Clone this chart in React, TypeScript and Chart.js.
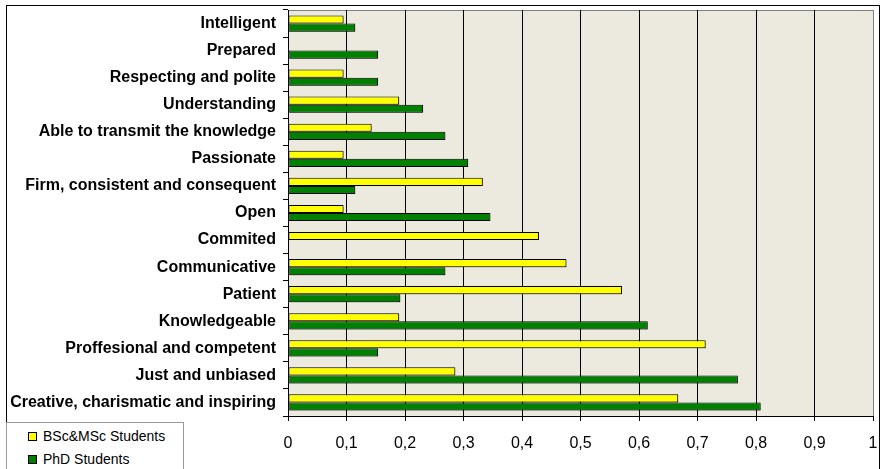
import React, { useEffect, useRef } from "react";
import { Chart, registerables } from "chart.js";

Chart.register(...registerables);

const categories = [
  "Intelligent",
  "Prepared",
  "Respecting and polite",
  "Understanding",
  "Able to transmit the knowledge",
  "Passionate",
  "Firm, consistent and consequent",
  "Open",
  "Commited",
  "Communicative",
  "Patient",
  "Knowledgeable",
  "Proffesional and competent",
  "Just and unbiased",
  "Creative, charismatic and inspiring",
];

const bscMscValues = [0.095, 0, 0.095, 0.19, 0.143, 0.095, 0.333, 0.095, 0.429, 0.476, 0.571, 0.19, 0.714, 0.286, 0.667];
const phdValues = [0.115, 0.154, 0.154, 0.231, 0.269, 0.308, 0.115, 0.346, 0, 0.269, 0.192, 0.615, 0.154, 0.769, 0.808];

const seriesNames = ["BSc&MSc Students", "PhD Students"];
const seriesColors = ["#FFFF00", "#008000"];

const xMin = 0;
const xMax = 1;
const xStep = 0.1;

const FONT = "'Liberation Sans', Arial, Helvetica, sans-serif";

const decorPlugin = {
  id: "decor",
  beforeDraw(chart: any) {
    const { ctx, chartArea } = chart;
    ctx.save();
    ctx.fillStyle = "#ffffff";
    ctx.fillRect(0, 0, chart.width, chart.height);
    ctx.fillStyle = "#ECE9DF";
    ctx.fillRect(chartArea.left, chartArea.top, chartArea.right - chartArea.left, chartArea.bottom - chartArea.top);
    ctx.strokeStyle = "#808080";
    ctx.lineWidth = 1;
    ctx.beginPath();
    ctx.moveTo(chartArea.left, chartArea.top + 0.5);
    ctx.lineTo(chartArea.right, chartArea.top + 0.5);
    ctx.stroke();
    ctx.restore();
  },
  beforeDatasetsDraw(chart: any) {
    const ctx = chart.ctx;
    ctx.save();
    ctx.shadowColor = "rgba(0,0,0,0.25)";
    ctx.shadowOffsetX = 1.5;
    ctx.shadowOffsetY = 1.5;
    ctx.shadowBlur = 0;
  },
  afterDatasetsDraw(chart: any) {
    chart.ctx.restore();
  },
};

export default function App() {
  const canvasRef = useRef<HTMLCanvasElement | null>(null);

  useEffect(() => {
    const canvas = canvasRef.current;
    if (!canvas) return;
    const chart = new Chart(canvas, {
      type: "bar",
      data: {
        labels: categories,
        datasets: [
          {
            label: seriesNames[0],
            data: bscMscValues,
            backgroundColor: seriesColors[0],
            borderColor: "#000000",
            borderWidth: 1,
            borderSkipped: false,
          },
          {
            label: seriesNames[1],
            data: phdValues,
            backgroundColor: seriesColors[1],
            borderColor: "#000000",
            borderWidth: 1,
            borderSkipped: false,
          },
        ],
      },
      options: {
        indexAxis: "y",
        responsive: false,
        animation: false,
        devicePixelRatio: 1,
        layout: { padding: { left: 0, right: 8, top: 10, bottom: 0 } },
        datasets: {
          bar: { barPercentage: 1, categoryPercentage: 0.6 },
        },
        plugins: {
          legend: { display: false },
          tooltip: { enabled: false },
        },
        scales: {
          x: {
            type: "linear",
            min: xMin,
            max: xMax,
            position: "bottom",
            afterFit(scale: any) {
              scale.height = 53;
              scale.paddingLeft = 0;
              scale.paddingRight = 0;
            },
            ticks: {
              stepSize: xStep,
              color: "#000",
              padding: 13,
              font: { family: FONT, size: 16 },
              callback: (v: any) => {
                const n = Math.round(Number(v) * 10) / 10;
                return String(n).replace(".", ",");
              },
            },
            grid: {
              color: (c: any) => (c.tick && Math.abs(c.tick.value - 1) < 1e-6 ? "#808080" : "#000000"),
              tickColor: "#000000",
              tickLength: 5,
              lineWidth: 1,
            },
            border: { color: "#000000", width: 1 },
          },
          y: {
            type: "category",
            afterFit(scale: any) {
              scale.width = 288;
              scale.paddingTop = 0;
              scale.paddingBottom = 0;
            },
            ticks: {
              color: "#000",
              padding: 7,
              autoSkip: false,
              font: { family: FONT, size: 16, weight: "bold" },
            },
            grid: {
              drawOnChartArea: false,
              drawTicks: true,
              tickLength: 5,
              color: "#000000",
              offset: true,
            },
            border: { color: "#000000", width: 1 },
          },
        },
      },
      plugins: [decorPlugin],
    } as any);
    return () => chart.destroy();
  }, []);

  const legendItem = (i: number, top: number) => (
    <div
      key={i}
      style={{
        position: "absolute",
        left: 21,
        top,
        height: 18,
        display: "flex",
        alignItems: "center",
        fontFamily: FONT,
        fontSize: 14,
        color: "#000",
        whiteSpace: "nowrap",
      }}
    >
      <span
        style={{
          display: "inline-block",
          width: 9,
          height: 9,
          boxSizing: "border-box",
          border: "1px solid #000",
          background: seriesColors[i],
          marginRight: 6,
        }}
      />
      {seriesNames[i]}
    </div>
  );

  return (
    <div
      style={{
        position: "absolute",
        left: 0,
        top: 0,
        width: 881,
        height: 469,
        overflow: "hidden",
        background: "#fff",
      }}
    >
      <canvas ref={canvasRef} width={881} height={469} style={{ position: "absolute", left: 0, top: 0, width: 881, height: 469 }} />
      <div
        style={{
          position: "absolute",
          left: 6,
          top: 5,
          width: 874,
          height: 480,
          boxSizing: "border-box",
          border: "1px solid #000",
          pointerEvents: "none",
        }}
      />
      <div
        style={{
          position: "absolute",
          left: 6,
          top: 422,
          width: 178,
          height: 60,
          boxSizing: "border-box",
          border: "1px solid #9a9a9a",
          background: "#fff",
        }}
      >
        {legendItem(0, 4)}
        {legendItem(1, 27)}
      </div>
    </div>
  );
}
